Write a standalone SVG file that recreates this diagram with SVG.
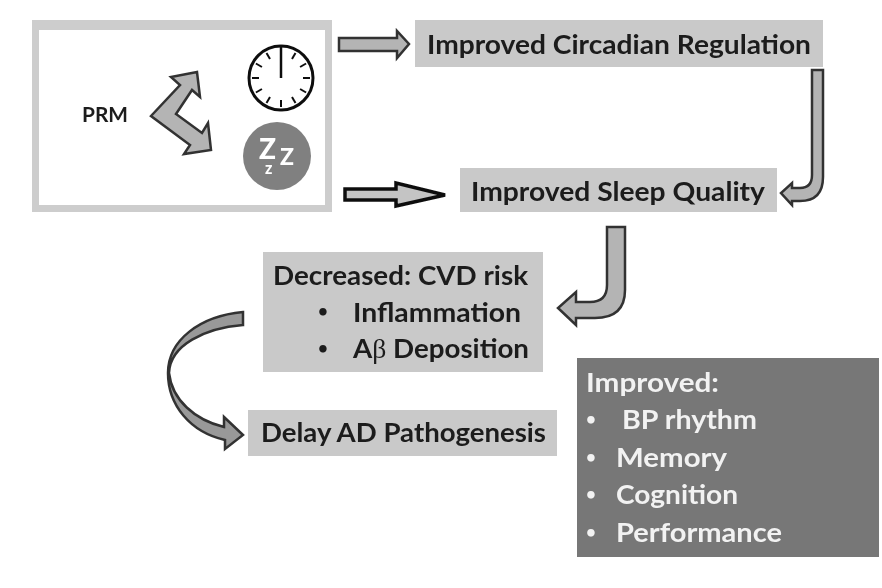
<svg xmlns="http://www.w3.org/2000/svg" width="882" height="588" viewBox="0 0 882 588">
<style>
.box{fill:#c9c9c9}
.t{font-family:"Lato","Liberation Sans",sans-serif;font-weight:700;fill:#1c1c1c}
.l{fill:#f2f2f2}
.a{fill:#b4b4b4;stroke:#333;stroke-width:2.5;stroke-linejoin:miter}
.tick{stroke:#111;stroke-width:2}
.s{font-size:27px}
.b{font-size:17px;text-anchor:middle}
.z{font-weight:900;fill:#fff}
</style>
<defs>
<filter id="soft" x="0" y="0" width="100%" height="100%"><feGaussianBlur stdDeviation="0.5"/></filter>
<line id="tk" class="tick" x1="281" y1="100" x2="281" y2="107"/>
</defs>
<rect width="882" height="588" fill="#fff"/>
<g filter="url(#soft)">
<g id="prm-frame">
<path fill-rule="evenodd" fill="#cdcdcd" d="M32,20H332V212H32ZM39,30V205H325V30Z"/>
<text class="t" x="82" y="122" font-size="20" textLength="46" lengthAdjust="spacingAndGlyphs">PRM</text>
</g>
<g id="clock">
<circle cx="281" cy="78" r="32" fill="#fff" stroke="#111" stroke-width="3"/>
<line x1="281" y1="45" x2="281" y2="78" stroke="#111" stroke-width="2.500"/>
<use href="#tk"/>
<use href="#tk" transform="rotate(30 281 78)"/>
<use href="#tk" transform="rotate(60 281 78)"/>
<use href="#tk" transform="rotate(90 281 78)"/>
<use href="#tk" transform="rotate(120 281 78)"/>
<use href="#tk" transform="rotate(150 281 78)"/>
<use href="#tk" transform="rotate(210 281 78)"/>
<use href="#tk" transform="rotate(240 281 78)"/>
<use href="#tk" transform="rotate(270 281 78)"/>
<use href="#tk" transform="rotate(300 281 78)"/>
<use href="#tk" transform="rotate(330 281 78)"/>
</g>
<g id="sleep-icon">
<circle cx="277" cy="156" r="34" fill="#808080"/>
<text class="t z" x="259" y="159" font-size="28">Z</text>
<text class="t z" x="280" y="165" font-size="23">Z</text>
<text class="t z" x="265" y="174" font-size="16">z</text>
</g>
<g id="circadian">
<rect class="box" x="415" y="20" width="408" height="47"/>
<text class="t s" x="427" y="54" textLength="384" lengthAdjust="spacingAndGlyphs">Improved Circadian Regulation</text>
</g>
<g id="sleep-quality">
<rect class="box" x="460" y="168" width="317" height="44"/>
<text class="t s" x="471" y="201" textLength="294" lengthAdjust="spacingAndGlyphs">Improved Sleep Quality</text>
</g>
<g id="decreased">
<rect class="box" x="263" y="252" width="280" height="120"/>
<text class="t s" x="273" y="285" textLength="255" lengthAdjust="spacingAndGlyphs">Decreased: CVD risk</text>
<text class="t b" x="323" y="317">•</text>
<text class="t s" x="353" y="322" textLength="168" lengthAdjust="spacingAndGlyphs">Inflammation</text>
<text class="t b" x="323" y="354">•</text>
<text class="t s" x="353" y="358" textLength="176" lengthAdjust="spacingAndGlyphs">A<tspan font-family="Liberation Serif,serif" font-weight="400">β</tspan> Deposition</text>
</g>
<g id="delay">
<rect class="box" x="248" y="410" width="309" height="46"/>
<text class="t s" x="261" y="442" textLength="285" lengthAdjust="spacingAndGlyphs">Delay AD Pathogenesis</text>
</g>
<g id="improved">
<rect x="577" y="358" width="302" height="199" fill="#777"/>
<text class="t s l" x="586" y="392" textLength="133" lengthAdjust="spacingAndGlyphs">Improved:</text>
<text class="t b l" x="591" y="425">•</text>
<text class="t s l" x="622" y="429" textLength="135" lengthAdjust="spacingAndGlyphs">BP rhythm</text>
<text class="t b l" x="591" y="463">•</text>
<text class="t s l" x="616" y="467" textLength="111" lengthAdjust="spacingAndGlyphs">Memory</text>
<text class="t b l" x="591" y="500">•</text>
<text class="t s l" x="616" y="504" textLength="122" lengthAdjust="spacingAndGlyphs">Cognition</text>
<text class="t b l" x="591" y="538">•</text>
<text class="t s l" x="616" y="542" textLength="166" lengthAdjust="spacingAndGlyphs">Performance</text>
</g>
<g id="connectors">
<polygon class="a" points="151,116 180,85 171,77 197,72 200,97 192,90 176,114 202,133 208,123 211,150 184,154 190,145"/>
<polygon class="a" points="339,38 397,38 397,31 409,44 397,58 397,51 339,51"/>
<polygon points="345,189 396,189 396,183 445,195 396,206 396,200 345,200" fill="#c4c4c4" stroke="#111" stroke-width="3.500"/>
<path class="a" d="M812,70H823V177Q823,201 800,201H792V205L781,193L792,183V188H800Q812,188 812,175Z"/>
<path class="a" d="M607,227H625V290Q625,318 595,318H576V325L558,308L576,292V302H590Q607,302 607,285Z"/>
<path d="M243,312V325C205,328 170,345 169,373C172,400 195,420 224,427V417L243,435L225,449V440C190,432 168,405 168,373C168,340 200,316 243,312Z" fill="#999" stroke="#333" stroke-width="2.500" stroke-linejoin="miter"/>
</g>
</g>
</svg>
